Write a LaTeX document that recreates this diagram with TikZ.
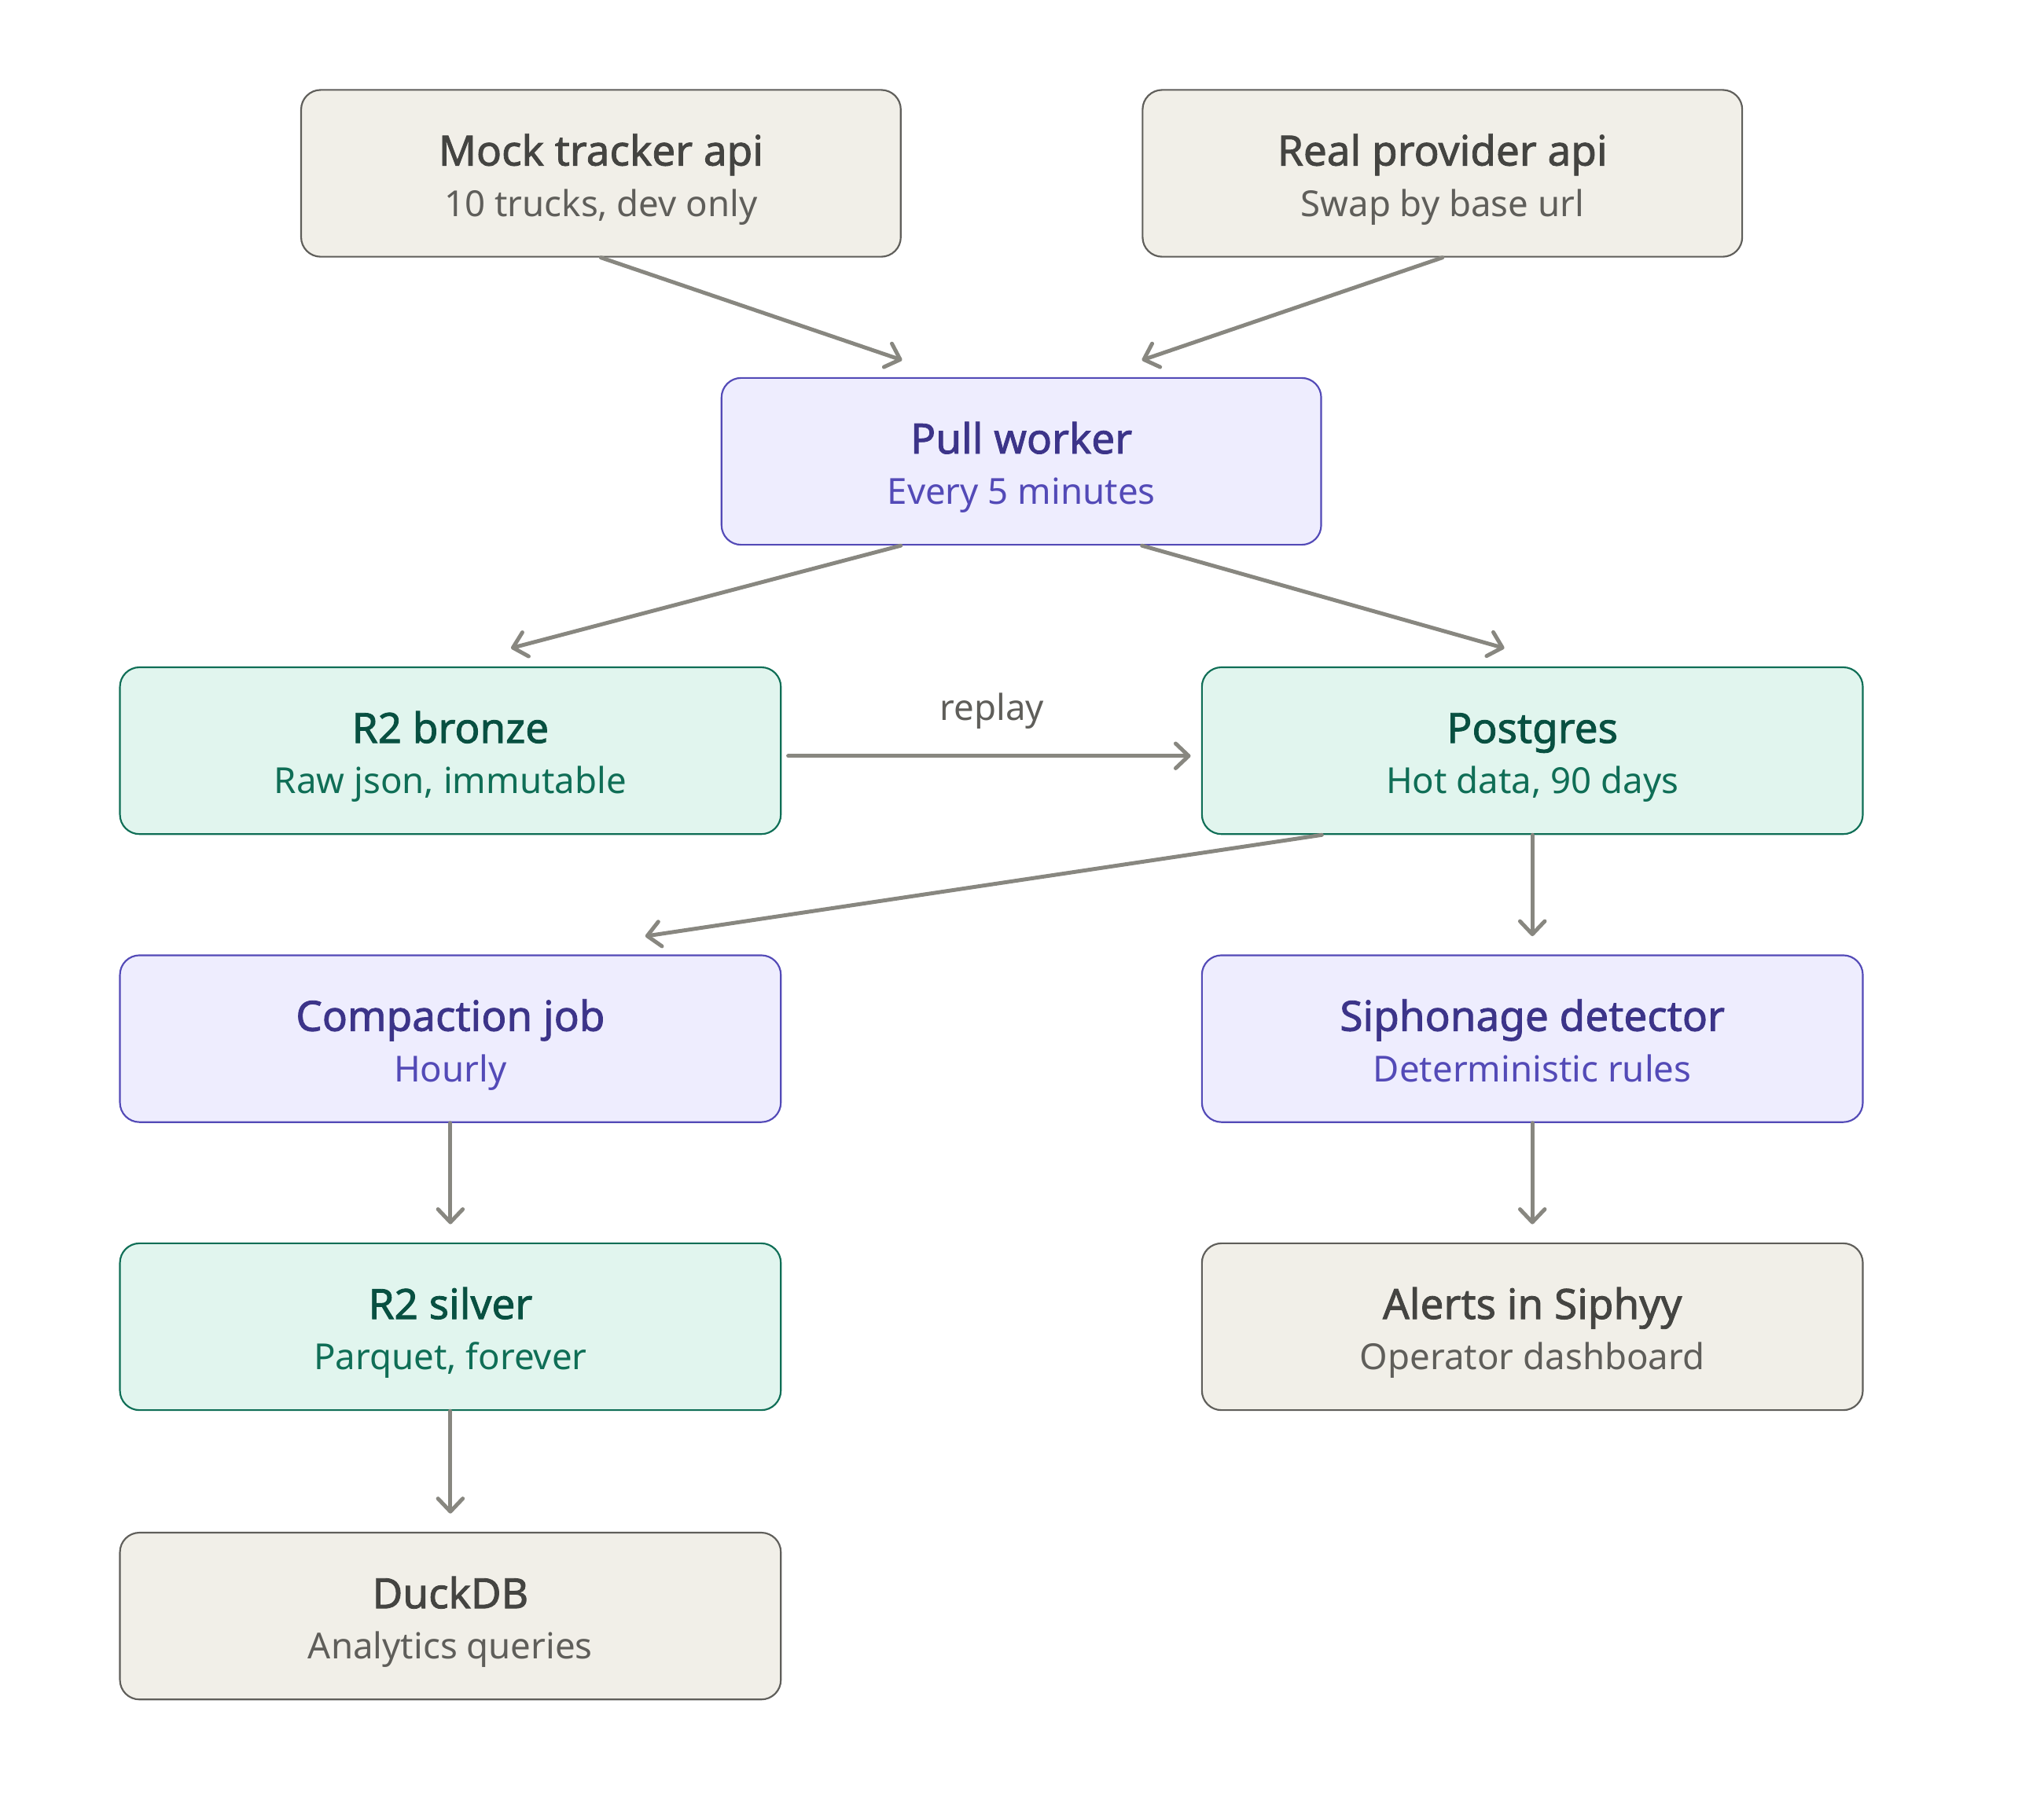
\documentclass[tikz,border=0pt]{standalone}
\usepackage{fontspec}
\setmainfont{Noto Sans}[BoldFont={Noto Sans},BoldFeatures={FakeBold=1.6}]
\usetikzlibrary{arrows.meta,calc}
\definecolor{gfill}{HTML}{F1EFE8}\definecolor{gline}{HTML}{5F5E5A}\definecolor{gtitle}{HTML}{444441}\definecolor{gsub}{HTML}{5F5E5A}
\definecolor{pfill}{HTML}{EEEDFE}\definecolor{pline}{HTML}{534AB7}\definecolor{ptitle}{HTML}{3C3489}\definecolor{psub}{HTML}{534AB7}
\definecolor{tfill}{HTML}{E1F5EE}\definecolor{tline}{HTML}{0F6E56}\definecolor{ttitle}{HTML}{085041}\definecolor{tsub}{HTML}{0F6E56}
\definecolor{arrcol}{HTML}{888780}
\tikzset{
  card/.style={rounded corners=15pt, line width=1.3pt, minimum height=128pt, inner sep=0pt},
  graycard/.style={card, fill=gfill, draw=gline},
  purpcard/.style={card, fill=pfill, draw=pline},
  tealcard/.style={card, fill=tfill, draw=tline},
  narrow/.style={minimum width=460pt},
  wide/.style={minimum width=507pt},
  ttl/.style={anchor=base, inner sep=0pt, font=\fontsize{32}{36}\selectfont\bfseries},
  sub/.style={anchor=base, inner sep=0pt, font=\fontsize{27.5}{32}\selectfont},
  arr/.style={draw=arrcol, line width=3pt, line cap=round, -{Straight Barb[length=10pt,width=19pt,line width=3pt, round]}},
}
\newcommand{\card}[6]{%
  \node[#1] (#2) at (#3) {};
  \node[ttl, text=#4] (#2-t) at ([yshift=6pt]#2.center) {#5};
  \node[sub, text=#4sub] (#2-s) at ([yshift=-33pt]#2.center) {#6};}
\begin{document}
\begin{tikzpicture}[x=1pt,y=-1pt]
\useasboundingbox (0,0) rectangle (1568,1383);
\colorlet{gray}{gtitle}\colorlet{graysub}{gsub}
\colorlet{purp}{ptitle}\colorlet{purpsub}{psub}
\colorlet{teal}{ttitle}\colorlet{tealsub}{tsub}
\card{graycard,narrow}{mock}{461,133}{gray}{Mock tracker api}{10 trucks, dev only}
\card{graycard,narrow}{real}{1106.5,133}{gray}{Real provider api}{Swap by base url}
\card{purpcard,narrow}{pull}{783.5,354}{purp}{Pull worker}{Every 5 minutes}
\card{tealcard,wide}{bronze}{345.5,576}{teal}{R2 bronze}{Raw json, immutable}
\card{tealcard,wide}{pg}{1175.5,576}{teal}{Postgres}{Hot data, 90 days}
\card{purpcard,wide}{comp}{345.5,797}{purp}{Compaction job}{Hourly}
\card{purpcard,wide}{siph}{1175.5,797}{purp}{Siphonage detector}{Deterministic rules}
\card{tealcard,wide}{silver}{345.5,1018}{teal}{R2 silver}{Parquet, forever}
\card{graycard,wide}{alerts}{1175.5,1018}{gray}{Alerts in Siphyy}{Operator dashboard}
\card{graycard,wide}{duck}{345.5,1240}{gray}{DuckDB}{Analytics queries}

\draw[arr] (mock.south) -- ([xshift=-91.5pt,yshift=13pt]pull.north);
\draw[arr] (real.south) -- ([xshift=92.5pt,yshift=13pt]pull.north);
\draw[arr] ([xshift=-92.5pt]pull.south) -- ([xshift=46.5pt,yshift=14pt]bronze.north);
\draw[arr] ([xshift=92.5pt]pull.south) -- ([xshift=-21.5pt,yshift=14pt]pg.north);
\draw[arr] ([xshift=5pt,yshift=-4pt]bronze.east) -- ([xshift=-8pt,yshift=-4pt]pg.west);
\node[sub, text=gsub] (replay) at (761,553) {replay};
\draw[arr] ([xshift=-161.5pt]pg.south) -- ([xshift=149.5pt,yshift=14pt]comp.north);
\draw[arr] (pg.south) -- ([yshift=14pt]siph.north);
\draw[arr] (comp.south) -- ([yshift=14pt]silver.north);
\draw[arr] (siph.south) -- ([yshift=14pt]alerts.north);
\draw[arr] (silver.south) -- ([yshift=14pt]duck.north);
\end{tikzpicture}
\end{document}
